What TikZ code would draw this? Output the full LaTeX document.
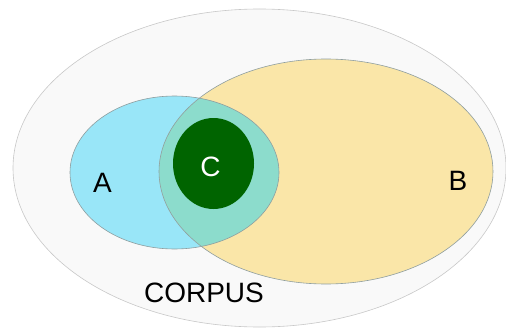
\documentclass[tikz,border=0pt]{standalone}
\usepackage{fontspec}
\setmainfont{Liberation Sans}
\usepackage{xcolor}
\usepackage{tikz}

\definecolor{corpusfill}{HTML}{F9F9F9}
\definecolor{corpusline}{HTML}{C8C8C8}
\definecolor{setafill}{HTML}{99E6F8}
\definecolor{setbfill}{HTML}{FAE6A8}
\definecolor{abfill}{HTML}{8CDCCC}
\definecolor{setcfill}{HTML}{006400}
\definecolor{setline}{HTML}{8E9EA0}

\begin{document}
\begin{tikzpicture}[
    x=1pt, y=-1pt,
    corpus/.style={fill=corpusfill, draw=corpusline, line width=0.6pt},
    setline/.style={draw=setline, line width=0.6pt},
    setlabel/.style={inner sep=0pt, font=\fontsize{28}{30}\selectfont}
]
\useasboundingbox (0,0) rectangle (506,329);

% Corpus
\path[corpus] (259.5,168) ellipse [x radius=246.5pt, y radius=159pt];

% Sets A and B
\fill[setafill] (174.5,172.5) ellipse [x radius=104.5pt, y radius=76.5pt];
\fill[setbfill] (326,171.5) ellipse [x radius=167pt, y radius=112.5pt];
\begin{scope}
  \clip (174.5,172.5) ellipse [x radius=104.5pt, y radius=76.5pt];
  \fill[abfill] (326,171.5) ellipse [x radius=167pt, y radius=112.5pt];
\end{scope}
\path[setline] (174.5,172.5) ellipse [x radius=104.5pt, y radius=76.5pt];
\path[setline] (326,171.5) ellipse [x radius=167pt, y radius=112.5pt];

% Set C
\fill[setcfill] (213.5,163.5) ellipse [x radius=40.5pt, y radius=45.5pt];

% Labels
\node[setlabel] (labela) at (102.5,182.5) {A};
\node[setlabel] (labelb) at (458,180.5) {B};
\node[setlabel, text=white] (labelc) at (210.5,167) {C};
\node[setlabel] (labelcorpus) at (204,293) {CORPUS};

\end{tikzpicture}
\end{document}
